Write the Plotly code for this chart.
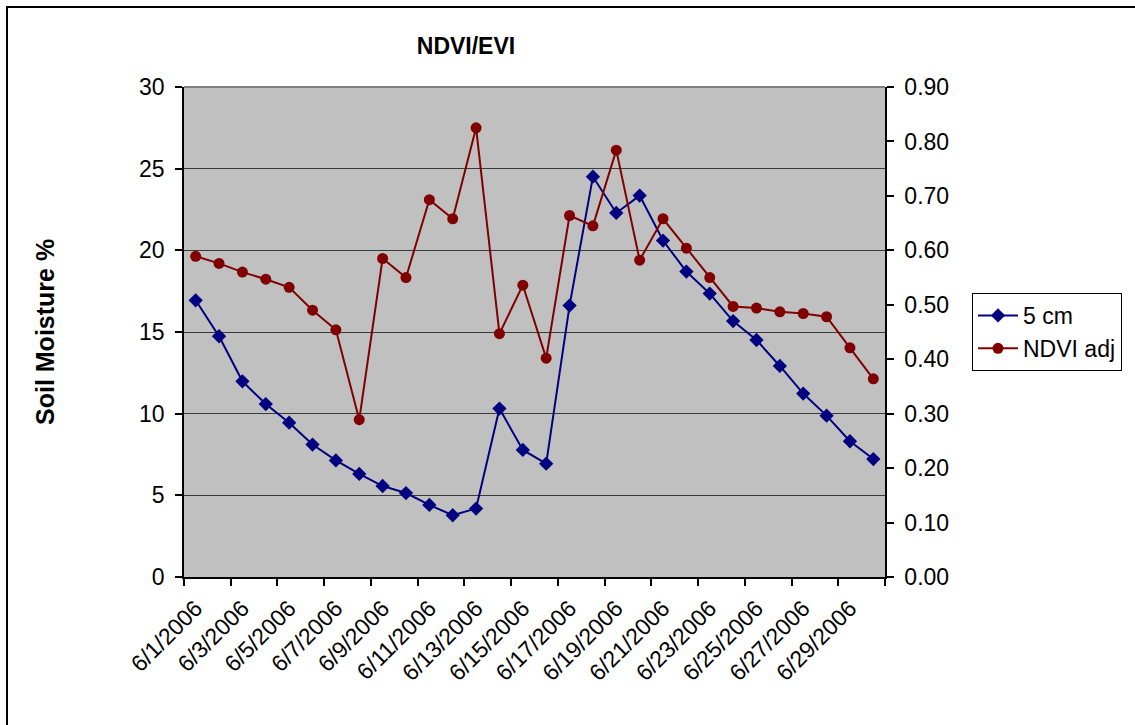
import plotly.graph_objects as go

# Daily dates for June 2006
dates = [f"6/{d}/2006" for d in range(1, 31)]

# Soil moisture at 5 cm depth (%), left axis
moisture_5cm = [16.94, 14.74, 11.98, 10.59, 9.45, 8.11, 7.14, 6.31, 5.57, 5.14,
                4.41, 3.78, 4.19, 10.31, 7.78, 6.94, 16.62, 24.51, 22.29, 23.35,
                20.60, 18.70, 17.35, 15.67, 14.51, 12.92, 11.23, 9.88, 8.31, 7.22]

# Adjusted NDVI, right axis
ndvi_adj = [0.589, 0.576, 0.560, 0.547, 0.532, 0.490, 0.454, 0.289, 0.585, 0.550,
            0.693, 0.658, 0.825, 0.447, 0.536, 0.402, 0.664, 0.645, 0.784, 0.582,
            0.658, 0.604, 0.550, 0.497, 0.494, 0.487, 0.484, 0.478, 0.421, 0.364]

left_ticks = [0, 5, 10, 15, 20, 25, 30]
right_ticks = [0.0, 0.1, 0.2, 0.3, 0.4, 0.5, 0.6, 0.7, 0.8, 0.9]

idx = list(range(len(dates)))
label_idx = idx[::2]
label_txt = [dates[i] for i in label_idx]

FONT = "Liberation Sans, Arial, sans-serif"
NAVY = "#000080"
MAROON = "#800000"

fig = go.Figure()
fig.add_trace(go.Scatter(
    x=idx, y=moisture_5cm, name="5 cm", mode="lines+markers",
    line=dict(color=NAVY, width=2),
    marker=dict(symbol="diamond", size=11, color=NAVY),
    yaxis="y",
))
fig.add_trace(go.Scatter(
    x=idx, y=ndvi_adj, name="NDVI adj", mode="lines+markers",
    line=dict(color=MAROON, width=2),
    marker=dict(symbol="circle", size=11, color=MAROON),
    yaxis="y2",
))

L, R, T, B = 184, 250, 87, 148
W, H = 1135, 725
pw, ph = W - L - R, H - T - B


def px_x(p):
    return (p - L) / pw


def px_y(p):
    return (H - B - p) / ph


fig.update_layout(
    width=W, height=H,
    margin=dict(l=L, r=R, t=T, b=B, pad=0),
    paper_bgcolor="white",
    plot_bgcolor="#C0C0C0",
    font=dict(family=FONT, size=23, color="black"),
    showlegend=True,
    legend=dict(
        x=px_x(972), y=px_y(293), xanchor="left", yanchor="top",
        bordercolor="black", borderwidth=1, bgcolor="white",
        font=dict(family=FONT, size=23),
        itemwidth=40,
    ),
    title=dict(
        text="<b>NDVI/EVI</b>", x=466 / W, y=1 - 46 / H,
        xanchor="center", yanchor="middle",
        font=dict(family=FONT, size=23, color="black"),
    ),
    xaxis=dict(
        range=[-0.5, 29.5], tickmode="array", tickvals=label_idx, ticktext=label_txt,
        tickangle=-45, ticks="", showgrid=False, zeroline=False,
        showline=True, linecolor="black", linewidth=1.5,
        ticklabelstandoff=7,
        tickfont=dict(family=FONT, size=23),
        minor=dict(tickmode="linear", tick0=-0.5, dtick=2, ticks="outside",
                   ticklen=7, tickcolor="black", tickwidth=1.5, showgrid=False),
    ),
    yaxis=dict(
        range=[0, 30], tickmode="array", tickvals=left_ticks,
        ticks="outside", ticklen=7, tickcolor="black", tickwidth=1.5,
        showgrid=True, gridcolor="#3a3a3a", gridwidth=1.3,
        zeroline=False, showline=True, linecolor="black", linewidth=1.5,
        ticklabelstandoff=6,
        tickfont=dict(family=FONT, size=23),
    ),
    yaxis2=dict(
        range=[0, 0.9], tickmode="array", tickvals=right_ticks, tickformat=".2f",
        overlaying="y", side="right",
        ticks="outside", ticklen=7, tickcolor="black", tickwidth=1.5,
        showgrid=False, zeroline=False, showline=True, linecolor="black", linewidth=1.5,
        ticklabelstandoff=6,
        tickfont=dict(family=FONT, size=23),
    ),
)

# plot area border (top edge) and outer chart frame
fig.add_shape(type="line", xref="paper", yref="paper", x0=0, x1=1, y0=1, y1=1,
              line=dict(color="#808080", width=2))
fig.add_shape(type="rect", xref="paper", yref="paper",
              x0=px_x(7), x1=px_x(1145), y0=px_y(7), y1=px_y(735),
              line=dict(color="black", width=2), fillcolor="rgba(0,0,0,0)", layer="below")

fig.add_annotation(
    text="<b>Soil Moisture %</b>", textangle=-90,
    x=px_x(45), y=px_y(332), xref="paper", yref="paper",
    xanchor="center", yanchor="middle", showarrow=False,
    font=dict(family=FONT, size=25, color="black"),
)

fig.write_html("out.html")
